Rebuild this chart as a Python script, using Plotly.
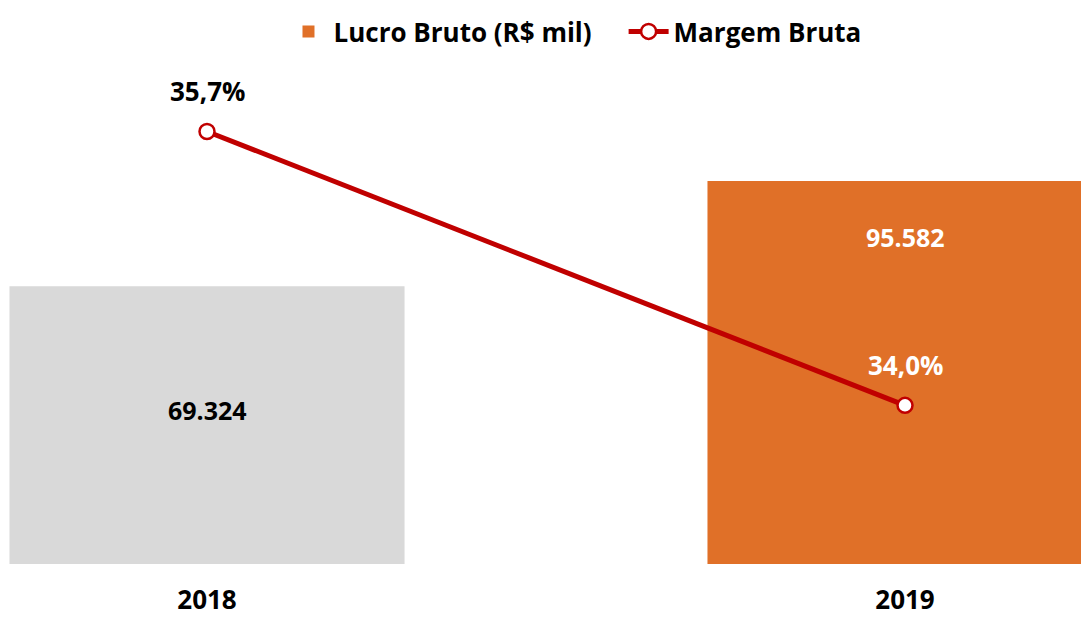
import plotly.graph_objects as go

# ── Data ─────────────────────────────────────────────────────────────────────
years = ["2018", "2019"]
lucro_bruto = [69324, 95582]          # R$ mil
margem_bruta = [35.7, 34.0]           # %
lucro_labels = ["69.324", "95.582"]
margem_labels = ["35,7%", "34,0%"]

# ── Style ────────────────────────────────────────────────────────────────────
_FONT = "Open Sans, Noto Sans, sans-serif"
_GRAY = "#D9D9D9"
_ORANGE = "#E07028"
_RED = "#C00000"
bar_colors = [_GRAY, _ORANGE]
_GAP = "\u00a0" * 4

fig = go.Figure()

# one bar trace per year so the legend swatch is the orange one
for i, yr in enumerate(years):
    fig.add_trace(go.Bar(
        x=[yr], y=[lucro_bruto[i]],
        name="<b>Lucro Bruto (R$ mil)</b>" + _GAP,
        marker=dict(color=bar_colors[i], line=dict(width=0)),
        width=0.566,
        showlegend=(i == 1),
        hoverinfo="skip",
    ))

fig.add_trace(go.Scatter(
    x=years, y=margem_bruta,
    name="<b>Margem Bruta</b>",
    yaxis="y2",
    mode="lines+markers",
    line=dict(color=_RED, width=5),
    marker=dict(size=15, color="#FFFFFF", line=dict(color=_RED, width=2.5)),
    hoverinfo="skip",
))

# value labels (x given as category index)
bar_shift = [-124, -56]
bar_color = ["#000000", "#FFFFFF"]
line_color = ["#000000", "#FFFFFF"]
for i in range(len(years)):
    fig.add_annotation(
        x=i, y=lucro_bruto[i], xref="x", yref="y",
        text=f"<b>{lucro_labels[i]}</b>", showarrow=False,
        yshift=bar_shift[i],
        font=dict(size=25, color=bar_color[i], family=_FONT),
    )
    fig.add_annotation(
        x=i, y=margem_bruta[i], xref="x", yref="y2",
        text=f"<b>{margem_labels[i]}</b>", showarrow=False,
        yshift=40,
        font=dict(size=26, color=line_color[i], family=_FONT),
    )

fig.update_layout(
    template=None,
    width=1081, height=611,
    barmode="overlay",
    paper_bgcolor="#FFFFFF",
    plot_bgcolor="#FFFFFF",
    font=dict(family=_FONT, color="#000000", size=26),
    margin=dict(l=0, r=0, t=52, b=55),
    showlegend=True,
    legend=dict(
        orientation="h",
        x=0.5245, xanchor="center",
        y=1.0655, yanchor="middle",
        font=dict(size=26, color="#000000", family=_FONT),
        bgcolor="rgba(0,0,0,0)",
        itemwidth=40,
        traceorder="normal",
    ),
    xaxis=dict(
        type="category",
        range=[-0.2851, 1.2636],
        showgrid=False, zeroline=False, showline=False,
        ticks="",
        tickfont=dict(size=26, color="#000000", family=_FONT),
        ticklabelstandoff=18,
        tickprefix="<b>", ticksuffix="</b>",
    ),
    yaxis=dict(
        range=[0, 124783],
        visible=False,
    ),
    yaxis2=dict(
        range=[33.015, 36.119],
        overlaying="y", side="right",
        visible=False,
    ),
)

fig.write_html("out.html")
